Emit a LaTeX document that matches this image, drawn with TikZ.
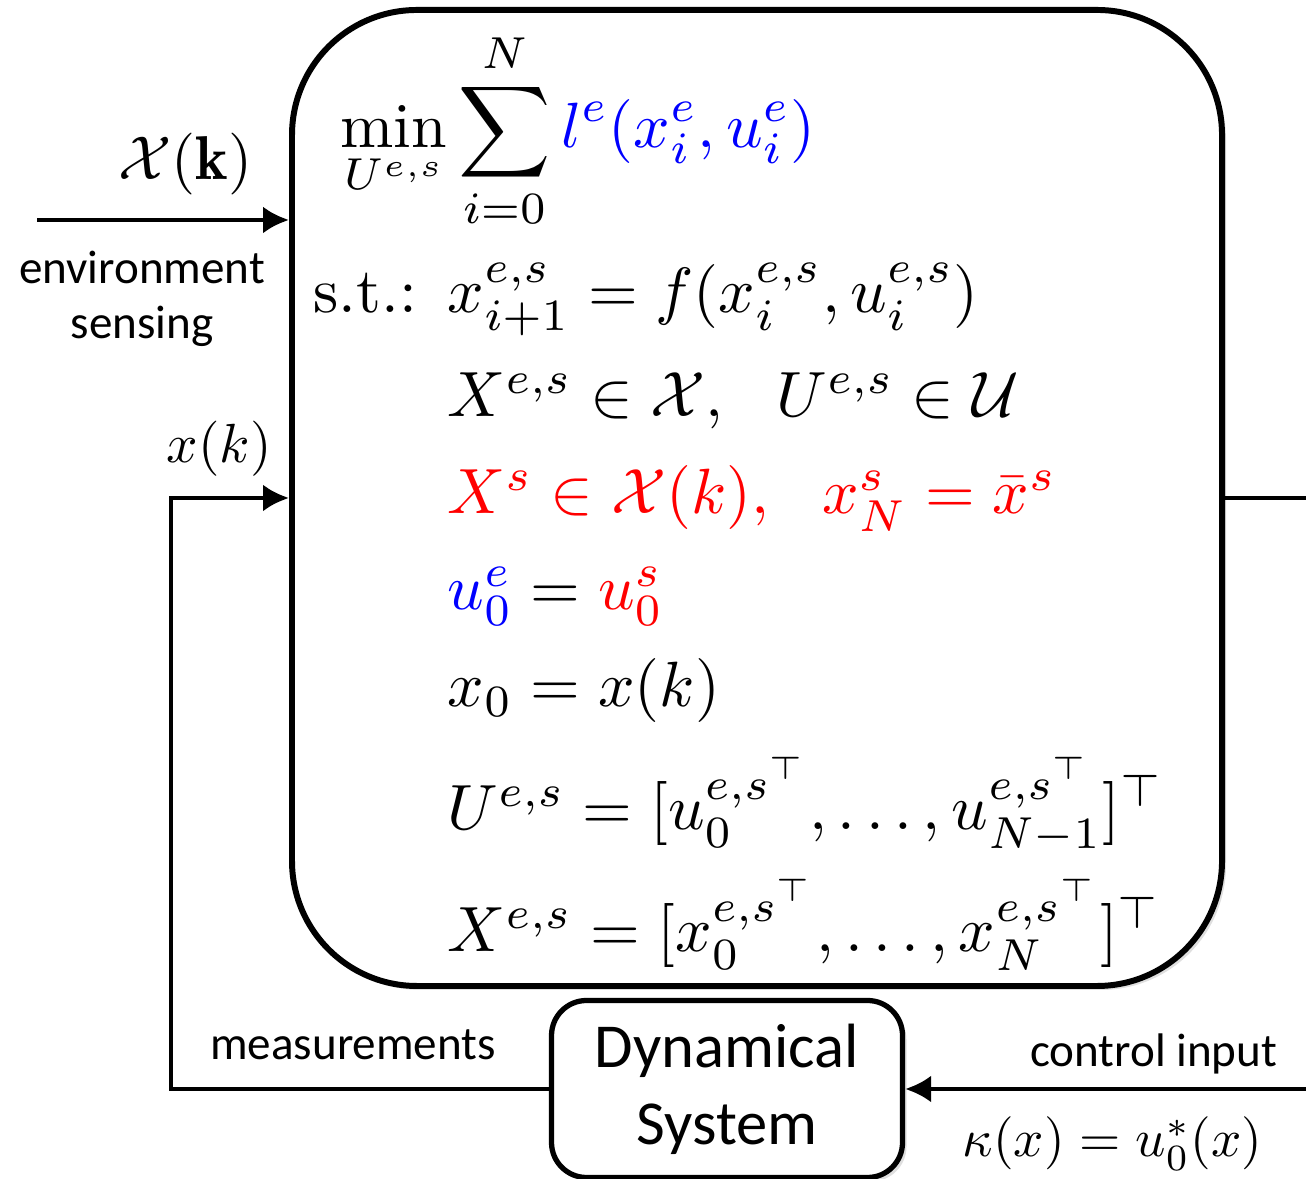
\documentclass[tikz,border=0pt]{standalone}
\usepackage{amsmath}
\usepackage{graphicx}
\usepackage{fontspec}
\newfontfamily\calibrifont{Carlito}
\usetikzlibrary{arrows.meta,shadows}

\tikzset{
  blockbox/.style={draw, line width=1.7pt, rounded corners=1.25cm, fill=white, inner sep=0pt,
    drop shadow={opacity=0.25, shadow xshift=0.4mm, shadow yshift=-0.4mm}},
  plantbox/.style={draw, line width=1.5pt, rounded corners=0.35cm, fill=white, inner sep=0pt, align=center,
    font=\calibrifont\fontsize{17.8}{21.9}\selectfont,
    drop shadow={opacity=0.25, shadow xshift=0.4mm, shadow yshift=-0.4mm}},
  wire/.style={line width=1.3pt},
  arr/.style={wire, -{Latex[length=2.6mm,width=2.7mm]}},
  eqn/.style={anchor=base west, inner sep=0pt},
  lbl/.style={inner sep=0pt, align=center, font=\calibrifont\fontsize{13.4}{15.6}\selectfont},
}

\begin{document}
\begin{tikzpicture}
\useasboundingbox (0,0) rectangle (13.06,11.79);

\def \rowx {4.47}
\def \eqs {1.82}

\node[blockbox, minimum width=9.30cm, minimum height=9.76cm] (mpc) at (7.57,6.81) {};
\node[plantbox, minimum width=3.51cm, minimum height=1.77cm] (plant) at (7.27,0.90) {Dynamical\\System};

\coordinate (envin) at (0.37,9.59);
\coordinate (fbcorner) at (1.71,0.90);
\coordinate (outcorner) at (13.10,6.81);

\draw[arr] (envin) -- (envin -| mpc.west);
\draw[arr] (plant.west) -- (fbcorner) |- (mpc.west);
\draw[arr] (mpc.east) -- (outcorner) |- (plant.east);

\node[eqn] (cost) at (3.40,10.31) {\scalebox{\eqs}{$\displaystyle \min_{U^{e,s}} \sum_{i=0}^{N} {\color{blue} l^e(x_i^e,u_i^e)}$}};
\node[eqn] (st) at (3.13,8.66) {\scalebox{\eqs}{s.t.:}};
\node[eqn] (dyn) at (\rowx,8.66) {\scalebox{\eqs}{$x_{i+1}^{e,s} = f(x_i^{e,s},u_i^{e,s})$}};
\node[eqn] (sets) at (\rowx,7.62) {\scalebox{\eqs}{$X^{e,s} \in \mathcal{X},\ \ U^{e,s} \in \mathcal{U}$}};
\node[eqn, red] (safe) at (\rowx,6.65) {\scalebox{\eqs}{$X^s \in \mathcal{X}(k),\ \ x_N^s = \bar{x}^s$}};
\node[eqn] (couple) at (\rowx,5.69) {\scalebox{\eqs}{$\textcolor{blue}{u_0^e} = \textcolor{red}{u_0^s}$}};
\node[eqn] (init) at (\rowx,4.72) {\scalebox{\eqs}{$x_0 = x(k)$}};
\node[eqn] (useq) at (\rowx,3.49) {\scalebox{\eqs}{$U^{e,s} = [u_0^{{e,s}^\top},\ldots,u_{N-1}^{{e,s}^\top}]^\top$}};
\node[eqn] (xseq) at (\rowx,2.27) {\scalebox{\eqs}{$X^{e,s} = [x_0^{{e,s}^\top},\ldots,x_N^{{e,s}^\top}]^\top$}};

\node[anchor=base east, inner sep=0pt] (envset) at (2.53,9.99) {\scalebox{1.76}{$\mathcal{X}(\mathbf{k})$}};
\node[lbl] (envlbl) at (1.42,8.80) {environment\\sensing};
\node[anchor=base west, inner sep=0pt] (xk) at (1.66,7.16) {\scalebox{1.57}{$x(k)$}};
\node[lbl, anchor=base] (meas) at (3.53,1.19) {measurements};
\node[lbl, anchor=base east] (ctrl) at (12.78,1.12) {control input};
\node[anchor=base west, inner sep=0pt] (law) at (9.62,0.22) {\scalebox{1.51}{$\kappa(x) = u_0^*(x)$}};
\end{tikzpicture}
\end{document}
